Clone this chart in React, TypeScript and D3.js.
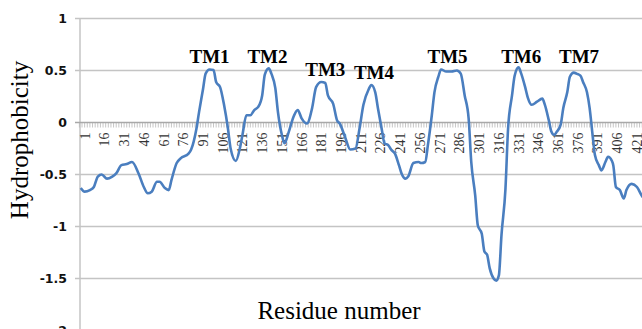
import React, { useEffect, useRef } from 'react';
import * as d3 from 'd3';

// Hydrophobicity profile (residue number, value)
const residues = [
  1, 4, 8, 11, 14, 17, 21, 25, 28, 32, 36, 40, 45, 49, 52, 55, 59, 61, 65, 68,
  70, 74, 77, 83, 85, 89, 91, 94, 96, 99, 102, 104, 107, 110, 113, 115, 119, 122, 124, 127,
  130, 133, 136, 139, 141, 144, 146, 149, 151, 154, 156, 159, 163, 166, 169, 173, 177, 180, 184, 187,
  189, 193, 196, 198, 202, 206, 210, 213, 216, 220, 222, 225, 227, 230, 232, 235, 237, 240, 243, 245,
  248, 250, 254, 258, 260, 263, 265, 268, 270, 273, 275, 279, 283, 287, 290, 293, 296, 298, 301, 303,
  306, 308, 310, 312, 315, 317, 319, 321, 324, 326, 329, 331, 334, 336, 339, 341, 344, 348, 352, 354,
  357, 359, 361, 363, 366, 368, 371, 373, 376, 378, 381, 383, 386, 388, 390, 392, 395, 397, 400, 402,
  405, 406, 408, 411, 414, 416, 420, 424, 428, 431,
];
const hydro = [
  -0.63, -0.665, -0.65, -0.62, -0.52, -0.5, -0.54, -0.52, -0.49, -0.41, -0.4, -0.38, -0.49, -0.62, -0.68, -0.665, -0.57, -0.57, -0.63, -0.65,
  -0.555, -0.39, -0.345, -0.3, -0.26, -0.06, 0.1, 0.32, 0.47, 0.51, 0.505, 0.39, 0.34, 0.17, -0.06, -0.25, -0.37, -0.25, -0.12, 0.07,
  0.07, 0.12, 0.15, 0.26, 0.46, 0.52, 0.47, 0.33, 0.1, -0.12, -0.2, -0.1, 0.06, 0.12, 0.04, -0.01, 0.14, 0.34, 0.39, 0.38,
  0.26, 0.18, 0.02, -0.01, -0.14, -0.26, -0.25, -0.06, 0.17, 0.32, 0.36, 0.29, 0.14, -0.07, -0.2, -0.22, -0.26, -0.3, -0.41, -0.49,
  -0.54, -0.52, -0.39, -0.38, -0.39, -0.38, -0.22, 0.07, 0.29, 0.44, 0.51, 0.49, 0.49, 0.5, 0.47, 0.26, 0.04, -0.38, -0.7, -0.99,
  -1.07, -1.24, -1.27, -1.4, -1.5, -1.52, -1.47, -1.08, -0.64, -0.06, 0.26, 0.45, 0.53, 0.47, 0.34, 0.24, 0.17, 0.2, 0.23, 0.17,
  0.02, -0.09, -0.12, -0.09, -0.02, 0.14, 0.29, 0.44, 0.48, 0.47, 0.45, 0.39, 0.29, 0.14, -0.09, -0.31, -0.41, -0.46, -0.38, -0.33,
  -0.37, -0.41, -0.62, -0.65, -0.73, -0.65, -0.59, -0.62, -0.71, -0.74,
];

const xTickLabels = [
  1, 16, 31, 46, 61, 76, 91, 106, 121, 136, 151, 166, 181, 196, 211, 226, 241, 256, 271, 286,
  301, 316, 331, 346, 361, 376, 391, 406, 421,
];
const yTicks = [1, 0.5, 0, -0.5, -1, -1.5, -2];

const tmNames = ['TM1', 'TM2', 'TM3', 'TM4', 'TM5', 'TM6', 'TM7'];
const tmResidues = [99, 143, 187, 224, 280, 336, 380];
const tmLevels = [0.575, 0.575, 0.447, 0.415, 0.575, 0.575, 0.575];

const HydroChart = () => {
  const svgRef = useRef<SVGSVGElement>(null);

  useEffect(() => {
    const svg = d3.select(svgRef.current);
    svg.selectAll('*').remove();

    const width = 642;
    const height = 329;
    const plotLeft = 80;

    const x = d3.scaleLinear().domain([1, 421]).range([80.7, 80.7 + 420 * 1.315]);
    const y = d3.scaleLinear().domain([-2, 1]).range([330.5, 18.5]);

    // gridlines
    svg.append('g')
      .selectAll('line')
      .data(yTicks.filter(d => d !== 0))
      .join('line')
      .attr('x1', plotLeft - 5)
      .attr('x2', width)
      .attr('y1', d => y(d))
      .attr('y2', d => y(d))
      .attr('stroke', '#c4c4c4')
      .attr('stroke-width', 1.5);

    // y axis line
    svg.append('line')
      .attr('x1', plotLeft).attr('x2', plotLeft)
      .attr('y1', y(1)).attr('y2', height)
      .attr('stroke', '#c4c4c4')
      .attr('stroke-width', 1.5);

    // y tick labels
    svg.append('g')
      .selectAll('text')
      .data(yTicks)
      .join('text')
      .attr('x', 67)
      .attr('y', d => y(d))
      .attr('dy', '0.36em')
      .attr('text-anchor', 'end')
      .style('font-family', '"DejaVu Sans", Verdana, sans-serif')
      .style('font-weight', 'bold')
      .style('font-size', '12.5px')
      .attr('fill', '#111')
      .text(d => `${d}`);

    // x axis at zero, with dense ticks
    const ticksG = svg.append('g');
    ticksG.selectAll('line')
      .data(d3.range(0, 432, 2))
      .join('line')
      .attr('x1', d => x(d))
      .attr('x2', d => x(d))
      .attr('y1', y(0))
      .attr('y2', y(0) + 5)
      .attr('stroke', '#b8b8b8')
      .attr('stroke-width', 0.8);
    svg.append('line')
      .attr('x1', plotLeft - 5).attr('x2', width)
      .attr('y1', y(0)).attr('y2', y(0))
      .attr('stroke', '#a8a8a8')
      .attr('stroke-width', 1.5);

    // rotated x tick labels
    svg.append('g')
      .selectAll('text')
      .data(xTickLabels)
      .join('text')
      .attr('transform', d => `translate(${x(d) + 4},${y(0) + 10}) rotate(-90)`)
      .attr('dy', '0.35em')
      .attr('text-anchor', 'end')
      .style('font-family', '"Liberation Serif", "Times New Roman", serif')
      .style('font-size', '14px')
      .attr('fill', '#333')
      .text(d => `${d}`);

    // the profile
    const line = d3.line<number>()
      .x((_, i) => x(residues[i]))
      .y(d => y(d))
      .curve(d3.curveMonotoneX);

    svg.append('path')
      .datum(hydro)
      .attr('d', line)
      .attr('fill', 'none')
      .attr('stroke', '#4a7ebf')
      .attr('stroke-width', 2.6)
      .attr('stroke-linejoin', 'round');

    // TM segment labels
    svg.append('g')
      .selectAll('text')
      .data(tmNames)
      .join('text')
      .attr('x', (_, i) => x(tmResidues[i]))
      .attr('y', (_, i) => y(tmLevels[i]))
      .attr('text-anchor', 'middle')
      .style('font-family', '"Liberation Serif", "Times New Roman", serif')
      .style('font-weight', 'bold')
      .style('font-size', '19px')
      .attr('fill', '#000')
      .text(d => d);

    // axis titles
    svg.append('text')
      .attr('transform', `translate(28,140) rotate(-90)`)
      .attr('text-anchor', 'middle')
      .style('font-family', '"Liberation Serif", "Times New Roman", serif')
      .style('font-size', '25px')
      .attr('fill', '#000')
      .text('Hydrophobicity');

    svg.append('text')
      .attr('x', 339)
      .attr('y', 319)
      .attr('text-anchor', 'middle')
      .style('font-family', '"Liberation Serif", "Times New Roman", serif')
      .style('font-size', '25px')
      .attr('fill', '#000')
      .text('Residue number');
  }, []);

  return (
    <svg
      ref={svgRef}
      width="642"
      height="329"
      style={{ position: 'absolute', left: 0, top: 0, background: '#fff', overflow: 'hidden' }}
    ></svg>
  );
};

export default function App() {
  return <HydroChart />;
}
